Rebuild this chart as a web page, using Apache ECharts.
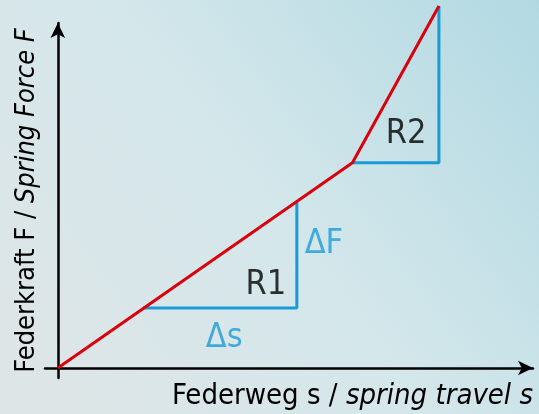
<!DOCTYPE html>
<html>
<head>
<meta charset="utf-8">
<script src="https://cdn.jsdelivr.net/npm/echarts@6/dist/echarts.min.js"></script>
<style>
html, body { margin: 0; padding: 0; }
#chart { width: 539px; height: 414px; }
</style>
</head>
<body>
<div id="chart"></div>
<script>
// spring characteristic (s, F), arbitrary units
var travel = [0, 62, 80.2];
var force = [0, 59.5, 104.9];
// slope triangles
var r1S = [17.9, 50.3, 50.3];
var r1F = [17.4, 17.4, 48];
var r2S = [62, 80.2, 80.2];
var r2F = [59.5, 59.5, 104.9];
// labels [s, F, text]
var blackLabels = [[43.8, 24, 'R1'], [73.3, 67.7, 'R2']];
var blueLabels = [[56, 36, 'ΔF'], [35, 8.5, 'Δs']];

var font = "'DejaVu Sans Condensed', sans-serif";
var red = '#d9000d';
var blue = '#1a9bd7';

function pairs(xs, ys) {
    return xs.map(function (x, i) { return [x, ys[i]]; });
}

var labelStyle = function (color) {
    return {
        show: true,
        position: 'inside',
        formatter: function (p) { return p.data[2]; },
        fontFamily: font,
        fontSize: 34,
        color: color,
        textBorderWidth: 0
    };
};

var chart = echarts.init(document.getElementById('chart'));
chart.setOption({
    backgroundColor: {
        type: 'linear', x: 0, y: 1, x2: 1, y2: 0,
        colorStops: [
            { offset: 0, color: '#dfe5e6' },
            { offset: 0.5, color: '#d4e7eb' },
            { offset: 1, color: '#b2d9e2' }
        ]
    },
    animation: false,
    grid: { left: 45, right: 6, top: 23, bottom: 36, outerBoundsMode: 'none' },
    xAxis: {
        type: 'value',
        min: -2.7,
        max: 100,
        splitLine: { show: false },
        axisTick: { show: false },
        axisLabel: { show: false },
        axisLine: {
            onZero: true,
            symbol: ['none', 'arrow'],
            symbolSize: [11, 15],
            lineStyle: { color: '#000', width: 2.5 }
        },
        name: '{a|Federweg s / }{b|spring travel s}',
        nameLocation: 'end',
        nameGap: 0,
        nameTextStyle: {
            align: 'right',
            verticalAlign: 'top',
            padding: [14, 0, 0, 0],
            rich: {
                a: { fontFamily: font, fontSize: 29, color: '#000' },
                b: { fontFamily: font, fontSize: 29, fontStyle: 'italic', color: '#000' }
            }
        }
    },
    yAxis: {
        type: 'value',
        min: -2.9,
        max: 100,
        splitLine: { show: false },
        axisTick: { show: false },
        axisLabel: { show: false },
        axisLine: {
            onZero: true,
            symbol: ['none', 'arrow'],
            symbolSize: [11, 15],
            lineStyle: { color: '#000', width: 2.5 }
        },
        name: '{a|Federkraft F / }{b|Spring Force F}',
        nameLocation: 'middle',
        nameGap: 5,
        nameTextStyle: {
            rich: {
                a: { fontFamily: font, fontSize: 27, color: '#000' },
                b: { fontFamily: font, fontSize: 27, fontStyle: 'italic', color: '#000' }
            }
        }
    },
    series: [
        {
            type: 'line',
            data: pairs(r1S, r1F),
            symbol: 'none',
            clip: false,
            lineStyle: { color: blue, width: 3 },
            z: 2
        },
        {
            type: 'line',
            data: pairs(r2S, r2F),
            symbol: 'none',
            clip: false,
            lineStyle: { color: blue, width: 3 },
            z: 2
        },
        {
            type: 'line',
            data: pairs(travel, force),
            symbol: 'none',
            clip: false,
            lineStyle: { color: red, width: 3 },
            z: 3
        },
        {
            type: 'scatter',
            data: blackLabels,
            symbolSize: 0,
            label: labelStyle('#000')
        },
        {
            type: 'scatter',
            data: blueLabels,
            symbolSize: 0,
            label: labelStyle(blue)
        }
    ]
});
</script>
</body>
</html>
